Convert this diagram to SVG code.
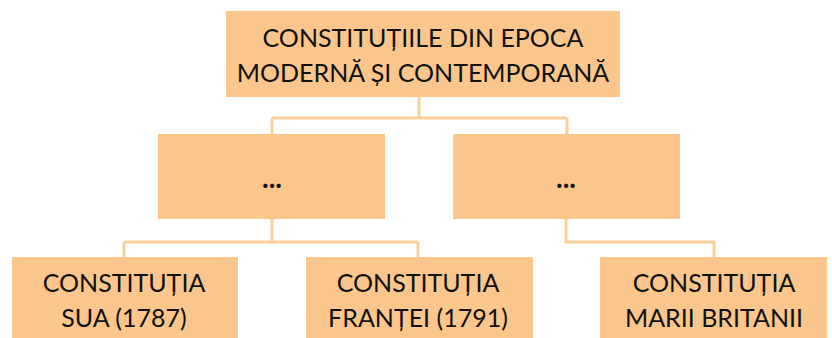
<svg xmlns="http://www.w3.org/2000/svg" width="832" height="338" viewBox="0 0 832 338">
<style>
.box{fill:#fac68b}
.t{font-family:Lato,"Open Sans","Noto Sans",sans-serif;font-size:25px;fill:#111;text-anchor:middle}
.dots{font-family:Lato,"Open Sans",sans-serif;font-size:28px;font-weight:bold;fill:#111;text-anchor:middle}
.c{fill:none;stroke:#fbcf9c;stroke-width:3}
</style>
<rect width="832" height="338" fill="#fff"/>
<g id="connectors">
<path class="c" d="M419 97V118M272 118H567M272 118V134M567 118V134"/>
<path class="c" d="M272 219V242M124 242H418M124 242V257M418 242V257"/>
<path class="c" d="M566 219V242H714V257"/>
</g>
<g id="root">
<rect class="box" x="226" y="11" width="394" height="86"/>
<text class="t" x="423" y="47">CONSTITUȚIILE DIN EPOCA</text>
<text class="t" x="423" y="82">MODERNĂ ȘI CONTEMPORANĂ</text>
</g>
<g id="mid-left">
<rect class="box" x="158" y="134" width="227" height="85"/>
<text class="dots" x="272" y="188">...</text>
</g>
<g id="mid-right">
<rect class="box" x="453" y="134" width="227" height="85"/>
<text class="dots" x="566" y="188">...</text>
</g>
<g id="sua">
<rect class="box" x="12" y="257" width="226" height="81"/>
<text class="t" x="124" y="292">CONSTITUȚIA</text>
<text class="t" x="124" y="327">SUA (1787)</text>
</g>
<g id="franta">
<rect class="box" x="306" y="257" width="227" height="81"/>
<text class="t" x="418" y="292">CONSTITUȚIA</text>
<text class="t" x="418" y="327">FRANȚEI (1791)</text>
</g>
<g id="britania">
<rect class="box" x="600" y="257" width="227" height="81"/>
<text class="t" x="714" y="292">CONSTITUȚIA</text>
<text class="t" x="714" y="327">MARII BRITANII</text>
</g>
</svg>
